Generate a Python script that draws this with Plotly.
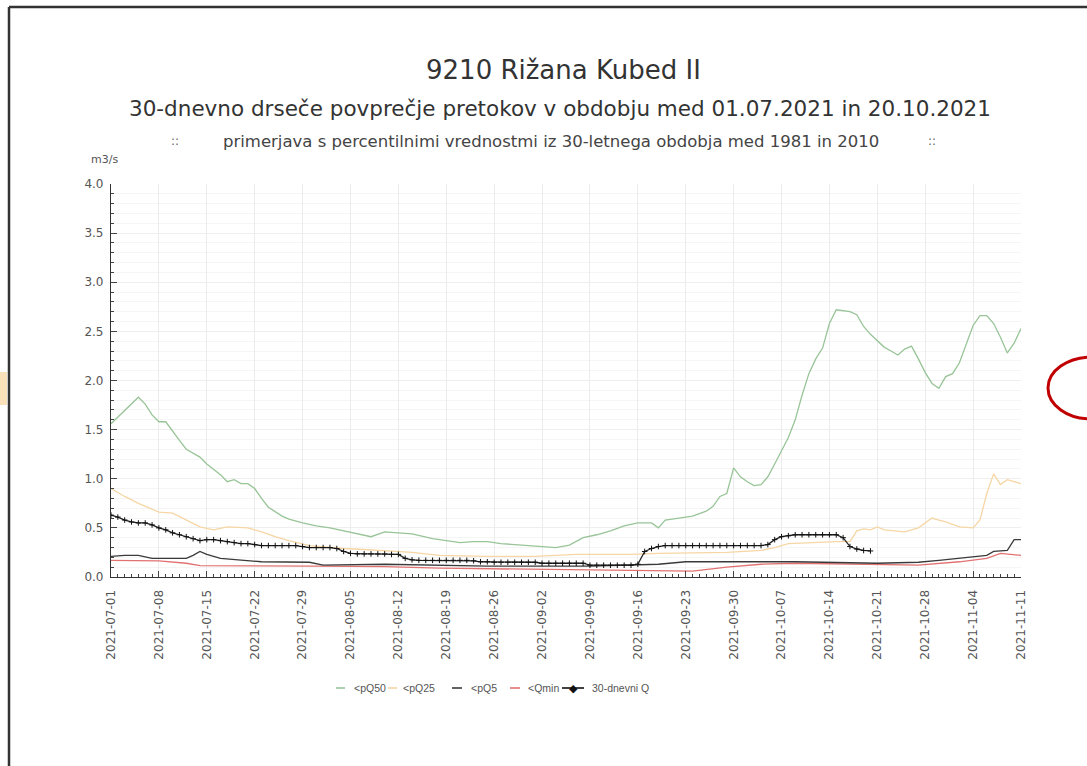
import datetime as dt
import plotly.graph_objects as go

# ---- data: 30-day moving mean and percentile curves (m3/s) ----
START = dt.date(2021, 7, 1)

# 30-dnevni Q, daily values from 2021-07-01 to 2021-10-20
q30_values = [
    0.63, 0.61, 0.58, 0.56, 0.55, 0.55, 0.53, 0.50, 0.48, 0.45,
    0.43, 0.41, 0.39, 0.37, 0.38, 0.38, 0.37, 0.36, 0.35, 0.34,
    0.34, 0.33, 0.32, 0.32, 0.32, 0.32, 0.32, 0.32, 0.31, 0.30,
    0.30, 0.30, 0.30, 0.29, 0.26, 0.24, 0.235, 0.235, 0.235, 0.235,
    0.235, 0.23, 0.23, 0.19, 0.175, 0.17, 0.17, 0.17, 0.17, 0.17,
    0.17, 0.17, 0.17, 0.165, 0.155, 0.155, 0.15, 0.15, 0.15, 0.15,
    0.15, 0.15, 0.15, 0.14, 0.14, 0.14, 0.14, 0.14, 0.14, 0.14,
    0.12, 0.12, 0.12, 0.12, 0.12, 0.12, 0.12, 0.13, 0.26, 0.29,
    0.31, 0.32, 0.32, 0.32, 0.32, 0.32, 0.32, 0.32, 0.32, 0.32,
    0.32, 0.32, 0.32, 0.32, 0.32, 0.32, 0.33, 0.38, 0.41, 0.42,
    0.43, 0.43, 0.43, 0.43, 0.43, 0.43, 0.43, 0.40, 0.31, 0.285,
    0.27, 0.265,
]

# percentile curves: day offset from 2021-07-01 and value
pq50_days = [0, 2, 4, 5, 6, 7, 8, 10, 11, 13, 14, 16, 17, 18, 19, 20, 21, 22, 23, 25,
             26, 28, 30, 32, 34, 36, 38, 40, 42, 44, 47, 49, 51, 53, 55, 57, 60, 63, 65, 67,
             69, 71, 73, 75, 77, 79, 80, 81, 83, 85, 87, 88, 89, 90, 91, 92, 93, 94, 95, 96,
             97, 98, 99, 100, 101, 102, 103, 104, 105, 106, 107, 108, 109, 110, 111, 112, 113,
             114, 115, 116, 117, 118, 119, 120, 121, 122, 123, 124, 125, 126, 127, 128, 129,
             130, 131, 132, 133]
pq50_values = [1.56, 1.70, 1.83, 1.76, 1.65, 1.58, 1.58, 1.39, 1.30, 1.22, 1.15, 1.04, 0.97,
               0.99, 0.95, 0.95, 0.90, 0.80, 0.71, 0.62, 0.59, 0.55, 0.52, 0.50, 0.47, 0.445,
               0.41, 0.46, 0.45, 0.44, 0.39, 0.37, 0.35, 0.36, 0.36, 0.34, 0.325, 0.31, 0.30,
               0.325, 0.40, 0.43, 0.47, 0.52, 0.55, 0.55, 0.50, 0.58, 0.60, 0.62, 0.67, 0.72,
               0.82, 0.85, 1.11, 1.02, 0.97, 0.93, 0.94, 1.02, 1.15, 1.29, 1.42, 1.60, 1.85,
               2.07, 2.22, 2.33, 2.58, 2.72, 2.71, 2.70, 2.67, 2.55, 2.47, 2.40, 2.34, 2.30,
               2.26, 2.32, 2.35, 2.22, 2.08, 1.97, 1.92, 2.04, 2.07, 2.18, 2.38, 2.56, 2.66,
               2.66, 2.58, 2.44, 2.28, 2.38, 2.53]

pq25_days = [0, 2, 4, 7, 9, 11, 13, 15, 17, 20, 22, 24, 26, 29, 32, 34, 37, 40, 44, 48, 55,
             62, 68, 76, 80, 90, 95, 97, 99, 106, 108, 109, 110, 111, 112, 113, 116, 118, 119,
             120, 121, 122, 124, 126, 127, 128, 129, 130, 131, 133]
pq25_values = [0.90, 0.82, 0.75, 0.66, 0.65, 0.58, 0.51, 0.48, 0.51, 0.50, 0.46, 0.41, 0.37,
               0.32, 0.30, 0.29, 0.28, 0.27, 0.25, 0.22, 0.21, 0.21, 0.23, 0.23, 0.24, 0.25,
               0.27, 0.30, 0.34, 0.36, 0.36, 0.47, 0.49, 0.48, 0.51, 0.48, 0.46, 0.50, 0.55,
               0.60, 0.58, 0.56, 0.51, 0.50, 0.58, 0.85, 1.05, 0.94, 0.99, 0.95]

pq5_days = [0, 2, 4, 6, 11, 12, 13, 14, 16, 19, 22, 29, 31, 40, 48, 55, 70, 76, 80, 84, 100,
            112, 118, 121, 126, 128, 129, 131, 132, 133]
pq5_values = [0.21, 0.22, 0.22, 0.19, 0.19, 0.22, 0.26, 0.23, 0.19, 0.17, 0.155, 0.15, 0.12,
              0.13, 0.12, 0.11, 0.11, 0.12, 0.13, 0.155, 0.155, 0.14, 0.15, 0.17, 0.21, 0.22,
              0.26, 0.27, 0.38, 0.38]

qmin_days = [0, 7, 11, 13, 30, 40, 48, 60, 70, 76, 80, 85, 90, 95, 100, 108, 112, 118, 124,
             128, 130, 133]
qmin_values = [0.17, 0.165, 0.14, 0.115, 0.11, 0.105, 0.09, 0.08, 0.075, 0.07, 0.06, 0.06,
               0.10, 0.13, 0.14, 0.13, 0.12, 0.12, 0.155, 0.19, 0.24, 0.22]

tick_labels = ["2021-07-01", "2021-07-08", "2021-07-15", "2021-07-22", "2021-07-29",
               "2021-08-05", "2021-08-12", "2021-08-19", "2021-08-26", "2021-09-02",
               "2021-09-09", "2021-09-16", "2021-09-23", "2021-09-30", "2021-10-07",
               "2021-10-14", "2021-10-21", "2021-10-28", "2021-11-04", "2021-11-11"]


def to_dates(days):
    return [START + dt.timedelta(days=d) for d in days]


q30_dates = to_dates(range(len(q30_values)))

GREEN = "#98c498"
ORANGE = "#f6d6a4"
DARK = "#3a3a3a"
RED = "#e27272"
TXT = "#555555"
FONT = "DejaVu Sans"
LEG_FONT = "Liberation Sans"

fig = go.Figure()
fig.add_trace(go.Scatter(x=to_dates(pq50_days), y=pq50_values, mode="lines",
                         line=dict(color=GREEN, width=1.3), name="<pQ50"))
fig.add_trace(go.Scatter(x=to_dates(pq25_days), y=pq25_values, mode="lines",
                         line=dict(color=ORANGE, width=1.3), name="<pQ25"))
fig.add_trace(go.Scatter(x=to_dates(qmin_days), y=qmin_values, mode="lines",
                         line=dict(color=RED, width=1.3), name="<Qmin"))
fig.add_trace(go.Scatter(x=to_dates(pq5_days), y=pq5_values, mode="lines",
                         line=dict(color=DARK, width=1.3), name="<pQ5"))
fig.add_trace(go.Scatter(x=q30_dates, y=q30_values, mode="lines+markers",
                         line=dict(color="#222222", width=1.3),
                         marker=dict(symbol="cross-thin", size=4,
                                     line=dict(color="#111111", width=1)),
                         name="30-dnevni Q"))

# geometry of the plot area in pixels
W, H = 1087, 766
L, R, T, B = 111, 66, 184, 189
PW, PH = W - L - R, H - T - B


def px(x):
    return (x - L) / PW


def py(y):
    return (H - B - y) / PH


def label(text, x, y, size, color, anchor="center", family=FONT):
    return dict(text=text, x=px(x), y=py(y), xref="paper", yref="paper",
                showarrow=False, xanchor=anchor, yanchor="middle",
                font=dict(family=family, size=size, color=color))


def hline(x0, x1, y, color, width):
    return dict(type="line", xref="paper", yref="paper", x0=px(x0), x1=px(x1),
                y0=py(y), y1=py(y), line=dict(color=color, width=width))


annotations = [
    label("9210 Rižana Kubed II", 563, 70, 26, "#333"),
    label("30-dnevno drseče povprečje pretokov v obdobju med 01.07.2021 in 20.10.2021",
          560, 108, 21.5, "#333"),
    label("::", 175, 141, 12, "#666"),
    label("primerjava s percentilnimi vrednostmi iz 30-letnega obdobja med 1981 in 2010",
          551, 141, 16.5, "#444"),
    label("::", 932, 141, 12, "#666"),
    label("m3/s", 104, 160, 11, TXT),
]

shapes = [
    # outer frame of the panel
    dict(type="line", xref="paper", yref="paper", x0=px(9), x1=px(9), y0=py(7), y1=py(H),
         line=dict(color="#333", width=2.5)),
    hline(9, W, 7, "#333", 2.5),
    # red highlight ring at the right edge
    dict(type="circle", xref="paper", yref="paper", x0=px(1048), x1=px(1135),
         y0=py(419), y1=py(357), line=dict(color="#c00000", width=3)),
    # small orange patch at the left edge
    dict(type="rect", xref="paper", yref="paper", x0=px(0), x1=px(7),
         y0=py(405), y1=py(372), fillcolor="#f8d49c", opacity=0.7, line=dict(width=0)),
]

# legend row below the axis: key line span, colour, label position, label text
LEG_Y = 688
legend_items = [
    (336, 345, GREEN, 352, "&lt;pQ50"),
    (388, 397, ORANGE, 401, "&lt;pQ25"),
    (452, 462, DARK, 469, "&lt;pQ5"),
    (510, 520, RED, 526, "&lt;Qmin"),
    (562, 584, "#111", 590, "30-dnevni Q"),
]
for x0, x1, col, tx, text in legend_items:
    shapes.append(hline(x0, x1, LEG_Y, col, 1.6))
    annotations.append(label(text, tx, LEG_Y, 10.5, TXT, anchor="left", family=LEG_FONT))
annotations.append(label("◆", 573, LEG_Y, 11, "#111"))

fig.update_layout(
    width=W, height=H,
    margin=dict(l=L, r=R, t=T, b=B, pad=0),
    paper_bgcolor="white", plot_bgcolor="white",
    showlegend=False,
    font=dict(family=FONT, size=11, color=TXT),
    annotations=annotations,
    shapes=shapes,
)

fig.update_xaxes(
    type="date",
    range=[START, dt.date(2021, 11, 11)],
    tickmode="array",
    tickvals=tick_labels,
    ticktext=tick_labels,
    tickangle=-90,
    tickfont=dict(family=FONT, size=12, color=TXT),
    ticks="inside", ticklen=6, tickcolor="#444",
    ticklabelstandoff=7,
    minor=dict(dtick=86400000, tick0="2021-07-01", ticks="inside", ticklen=3,
               tickcolor="#444", showgrid=False),
    showgrid=True, gridcolor="#ececec", gridwidth=1,
    showline=True, linecolor="#333", linewidth=1.2,
    zeroline=False,
)
fig.update_yaxes(
    range=[0, 4],
    dtick=0.5, tick0=0,
    tickformat=".1f",
    tickfont=dict(family=FONT, size=12, color=TXT),
    ticks="inside", ticklen=6, tickcolor="#444",
    ticklabelstandoff=4,
    minor=dict(dtick=0.1, ticks="inside", ticklen=3, tickcolor="#444",
               showgrid=True, gridcolor="#f5f5f5"),
    showgrid=True, gridcolor="#eeeeee", gridwidth=1,
    showline=True, linecolor="#333", linewidth=1.2,
    zeroline=False,
)

fig.write_html("out.html")
